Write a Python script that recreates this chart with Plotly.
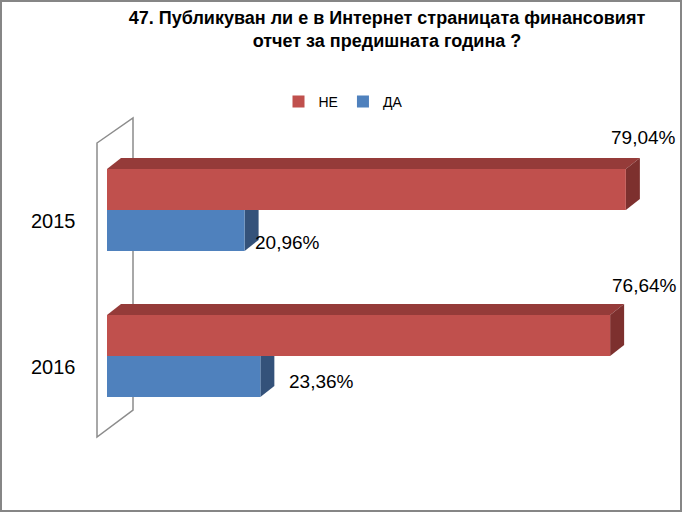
import plotly.graph_objects as go

# ---- data ----
categories = ["2015", "2016"]
series_names = ["НЕ", "ДА"]
ne_values = [79.04, 76.64]
da_values = [20.96, 23.36]
title_text = "47. Публикуван ли е в Интернет страницата финансовият<br>отчет за предишната година ?"

# ---- layout constants ----
W, H = 682, 512
ML, MR, MT, MB = 107, 17, 118, 75
X_MAX = 85.0
Y_TOP, Y_BOT = -0.630, 1.555
PW, PH = W - ML - MR, H - MT - MB
PX_X = PW / X_MAX
PX_Y = PH / (Y_BOT - Y_TOP)
BAR_W = 41 / PX_Y
DX = 14 / PX_X
DY = 11 / PX_Y

RED, RED_TOP, RED_SIDE = "#C0504D", "#953B39", "#7D302E"
BLUE, BLUE_SIDE = "#4F81BD", "#34527A"
GRAY = "#8C8C8C"
SANS = "Liberation Sans, Arial, sans-serif"
LABEL_FONT = dict(family=SANS, size=19, color="#000000")
CAT_FONT = dict(family=SANS, size=20, color="#000000")

idx = list(range(len(categories)))

fig = go.Figure()
fig.add_trace(go.Bar(orientation="h", x=ne_values, y=idx, width=BAR_W, offset=-BAR_W,
                     marker=dict(color=RED, line=dict(width=0)), name=series_names[0]))
fig.add_trace(go.Bar(orientation="h", x=da_values, y=idx, width=BAR_W, offset=0,
                     marker=dict(color=BLUE, line=dict(width=0)), name=series_names[1]))

def px2paper_x(px):
    return (px - ML) / PW

def px2paper_y(py):
    return (H - MB - py) / PH

shapes = []
# back wall (paper coords)
wall = [(97, 143), (133, 118), (133, 410), (97, 437)]
path = "M " + " L ".join(f"{px2paper_x(a)},{px2paper_y(b)}" for a, b in wall) + " Z"
shapes.append(dict(type="path", xref="paper", yref="paper", path=path,
                   line=dict(color=GRAY, width=1.5), fillcolor="rgba(0,0,0,0)", layer="below"))

def poly(pts, color):
    p = "M " + " L ".join(f"{x},{y}" for x, y in pts) + " Z"
    return dict(type="path", xref="x", yref="y", path=p, line=dict(width=0),
                fillcolor=color, layer="below")

for i, v in zip(idx, da_values):
    top, bot = i, i + BAR_W
    shapes.append(poly([(v, top), (v + DX, top), (v + DX, bot - DY), (v, bot)], BLUE_SIDE))
for i, v in zip(idx, ne_values):
    top, bot = i - BAR_W, i
    shapes.append(poly([(0, top), (DX, top - DY), (v + DX, top - DY), (v, top)], RED_TOP))
    shapes.append(poly([(v, top), (v + DX, top - DY), (v + DX, bot - DY), (v, bot)], RED_SIDE))

# outer border
shapes.append(dict(type="rect", xref="paper", yref="paper",
                   x0=px2paper_x(1), x1=px2paper_x(681), y0=px2paper_y(511), y1=px2paper_y(1),
                   line=dict(color="#868686", width=2), fillcolor="rgba(0,0,0,0)", layer="above"))

annotations = []
for i, c in zip(idx, categories):
    annotations.append(dict(text=c, x=px2paper_x(78), xref="paper", xanchor="right",
                            y=i, yref="y", yanchor="middle", yshift=-11, showarrow=False,
                            font=CAT_FONT))
ne_nudge = [(4, 20), (20, 18)]
for i, v, (nx, ny) in zip(idx, ne_values, ne_nudge):
    annotations.append(dict(text=f"{v:.2f}%".replace(".", ","), x=v + DX, xref="x", xanchor="center",
                            xshift=nx, y=i - BAR_W - DY, yref="y", yanchor="middle", yshift=ny,
                            showarrow=False, font=LABEL_FONT))
da_nudge = [(8, 8), (27, 15)]
for i, v, (nx, ny) in zip(idx, da_values, da_nudge):
    annotations.append(dict(text=f"{v:.2f}%".replace(".", ","), x=v, xref="x", xanchor="left",
                            xshift=nx, y=i + BAR_W, yref="y", yanchor="middle", yshift=ny,
                            showarrow=False, font=LABEL_FONT))

fig.update_layout(
    width=W, height=H, margin=dict(l=ML, r=MR, t=MT, b=MB),
    paper_bgcolor="white", plot_bgcolor="white",
    barmode="overlay",
    title=dict(text=title_text, x=387 / W, xanchor="center", y=1 - 24 / H, yanchor="top",
               xref="container", yref="container",
               font=dict(family=SANS, size=18, color="#000000", weight="bold")),
    xaxis=dict(range=[0, X_MAX], visible=False),
    yaxis=dict(range=[Y_BOT, Y_TOP], visible=False),
    showlegend=True,
    legend=dict(orientation="h", x=px2paper_x(343), xanchor="center", y=px2paper_y(102),
                yanchor="middle", font=dict(family=SANS, size=14, color="#000000"),
                bgcolor="rgba(0,0,0,0)", itemwidth=30),
    shapes=shapes, annotations=annotations,
)

fig.write_html("out.html", config={"displayModeBar": False},
               post_script="document.body.style.margin='0';")
